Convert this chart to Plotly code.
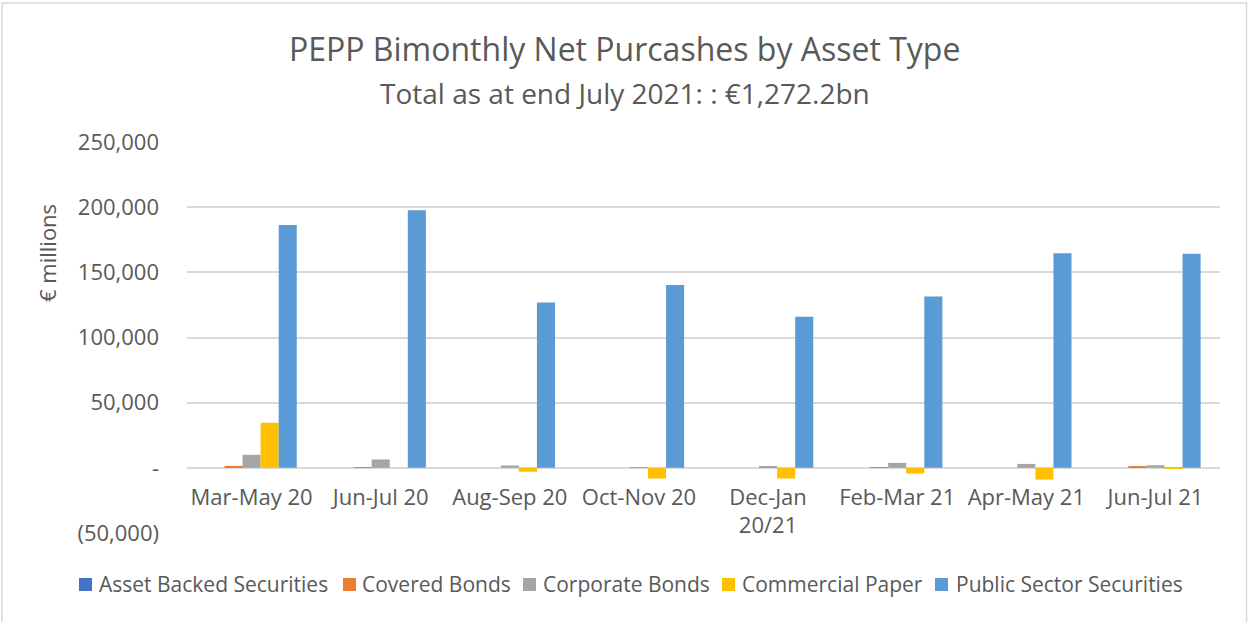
import plotly.graph_objects as go

categories = ["Mar-May 20", "Jun-Jul 20", "Aug-Sep 20", "Oct-Nov 20",
              "Dec-Jan<br>20/21", "Feb-Mar 21", "Apr-May 21", "Jun-Jul 21"]
abs_vals = [0, 0, 0, 0, 0, 0, 0, 0]
covered_vals = [1500, 500, 0, 0, 0, 400, 0, 700]
corporate_vals = [10000, 6400, 1800, 300, 900, 3800, 3000, 2000]
cp_vals = [34600, 0, -3000, -8200, -8200, -4400, -9000, -300]
pss_vals = [186300, 197700, 126800, 140300, 115900, 131500, 164700, 164200]

series_names = ["Asset Backed Securities", "Covered Bonds", "Corporate Bonds",
                "Commercial Paper", "Public Sector Securities"]
series_values = [abs_vals, covered_vals, corporate_vals, cp_vals, pss_vals]
series_colors = ["#4472C4", "#ED7D31", "#A5A5A5", "#FFC000", "#5B9BD5"]

y_tickvals = [-50000, 0, 50000, 100000, 150000, 200000, 250000]
y_ticktext = ["(50,000)", "-", "50,000", "100,000", "150,000", "200,000", "250,000"]

FONT = "Open Sans"
TXT = "#595959"
W, H = 1249, 622
L, R, T, B = 187, 29, 142, 89
PW, PH = W - L - R, H - T - B


def px_x(px):
    return (px - L) / PW


def px_y(py):
    return (H - B - py) / PH


fig = go.Figure()
for name, vals, col in zip(series_names, series_values, series_colors):
    fig.add_trace(go.Bar(x=categories, y=vals, name=name, marker_color=col,
                         marker_line_width=0, showlegend=False))

ymin, ymax = -50000, 250000
zero_pos = (0 - ymin) / (ymax - ymin)

fig.update_layout(
    width=W, height=H,
    margin=dict(l=L, r=R, t=T, b=B, autoexpand=False),
    paper_bgcolor="white", plot_bgcolor="white",
    barmode="group", bargap=0.3, bargroupgap=0,
    font=dict(family=FONT, color=TXT, size=22),
    xaxis=dict(anchor="free", position=zero_pos, showline=False, ticks="",
               showgrid=False, automargin=False, ticklabelstandoff=14,
               tickfont=dict(size=22, color=TXT)),
    yaxis=dict(range=[ymin, ymax], tickvals=y_tickvals, ticktext=y_ticktext,
               showgrid=True, gridcolor="#D9D9D9", gridwidth=1.5,
               zeroline=True, zerolinecolor="#D9D9D9", zerolinewidth=1.5,
               ticks="", ticklabelstandoff=27, automargin=False,
               tickfont=dict(size=22, color=TXT)),
    showlegend=False,
)

# titles
fig.add_annotation(text="PEPP Bimonthly Net Purcashes by Asset Type",
                   xref="paper", yref="paper", x=px_x(624.5), y=px_y(48),
                   xanchor="center", yanchor="middle", showarrow=False,
                   font=dict(family=FONT, size=32, color=TXT))
fig.add_annotation(text="Total as at end July 2021: : €1,272.2bn",
                   xref="paper", yref="paper", x=px_x(625), y=px_y(93),
                   xanchor="center", yanchor="middle", showarrow=False,
                   font=dict(family=FONT, size=28, color=TXT))
# y-axis title
fig.add_annotation(text="€ millions", textangle=-90,
                   xref="paper", yref="paper", x=px_x(47), y=px_y(253),
                   xanchor="center", yanchor="middle", showarrow=False,
                   font=dict(family=FONT, size=22, color=TXT))

# custom legend
legend_marker_x = [79, 343, 523, 722, 935]
legend_text_x = [97, 360, 541, 740, 954]
legend_y = 584
for name, col, mx, tx in zip(series_names, series_colors, legend_marker_x, legend_text_x):
    fig.add_shape(type="rect", xref="paper", yref="paper",
                  x0=px_x(mx), x1=px_x(mx + 13), y0=px_y(legend_y + 7), y1=px_y(legend_y - 6),
                  fillcolor=col, line=dict(width=0))
    fig.add_annotation(text=name, xref="paper", yref="paper",
                       x=px_x(tx), y=px_y(legend_y), xanchor="left", yanchor="middle",
                       showarrow=False, font=dict(family=FONT, size=21, color=TXT))

# chart frame
fig.add_shape(type="rect", xref="paper", yref="paper",
              x0=px_x(2), x1=px_x(1246.5), y0=px_y(H + 20), y1=px_y(3),
              line=dict(color="#D9D9D9", width=1.5), fillcolor="rgba(0,0,0,0)", layer="below")

fig.write_html("out.html", config={"displayModeBar": False},
               post_script="document.body.style.margin='0';")
